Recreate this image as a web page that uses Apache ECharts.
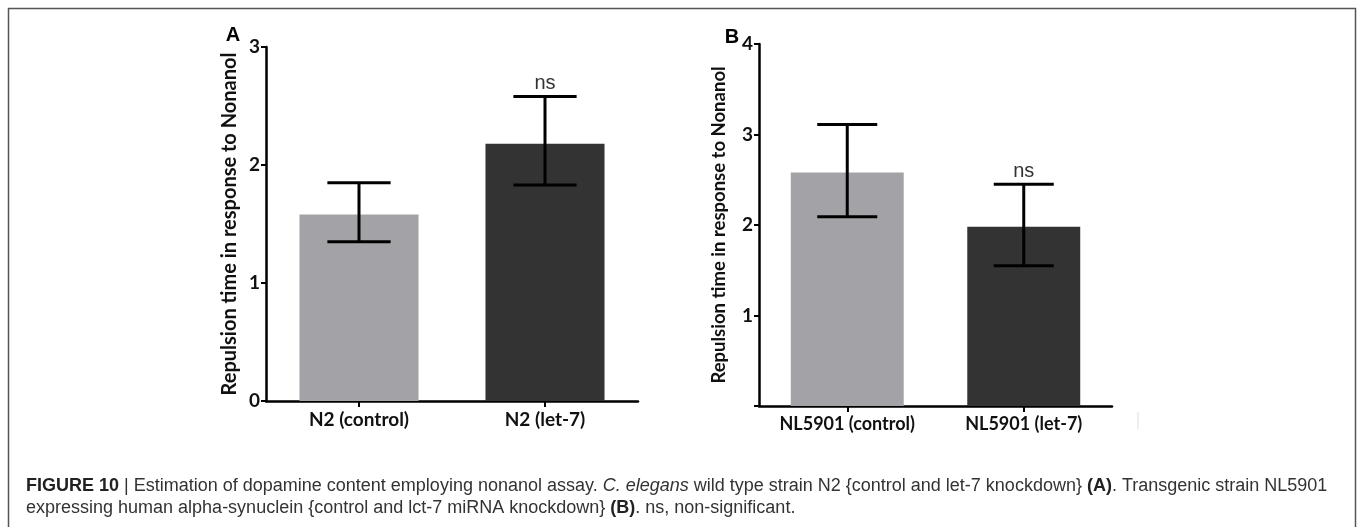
<!DOCTYPE html>
<html lang="en">
<head>
    <meta charset="UTF-8">
    <title>Figure 10</title>
    <script src="https://cdn.jsdelivr.net/npm/echarts@6/dist/echarts.min.js"></script>
    <style>
        html, body { margin: 0; padding: 0; background: #fff; }
    </style>
</head>
<body>
<div id="main" style="width:1357px;height:527px;"></div>

<script type="text/javascript">
    // panel A - N2
    var catsA = ['N2 (control)', 'N2 (let-7)'];
    var meanA = [1.58, 2.18];
    var lowA = [1.35, 1.83];
    var highA = [1.85, 2.58];
    var sigA = ['', 'ns'];

    // panel B - NL5901
    var catsB = ['NL5901 (control)', 'NL5901 (let-7)'];
    var meanB = [2.58, 1.98];
    var lowB = [2.09, 1.55];
    var highB = [3.11, 2.45];
    var sigB = ['', 'ns'];

    var barColors = ['#a3a2a7', '#333333'];
    var yName = 'Repulsion time in response to Nonanol';

    var myChart = echarts.init(document.getElementById('main'));

    function errItems(low, high) {
        var out = [];
        for (var i = 0; i < low.length; i++) {
            out.push([i, low[i], high[i]]);
        }
        return out;
    }

    function errRender(labels) {
        return function (params, api) {
            var x = api.value(0);
            var lo = api.coord([x, api.value(1)]);
            var hi = api.coord([x, api.value(2)]);
            var half = api.size([1, 0])[0] * 0.17;
            var st = { stroke: '#000', lineWidth: 3 };
            var kids = [
                { type: 'line', shape: { x1: hi[0], y1: hi[1], x2: lo[0], y2: lo[1] }, style: st },
                { type: 'line', shape: { x1: hi[0] - half, y1: hi[1], x2: hi[0] + half, y2: hi[1] }, style: st },
                { type: 'line', shape: { x1: lo[0] - half, y1: lo[1], x2: lo[0] + half, y2: lo[1] }, style: st }
            ];
            var lab = labels[params.dataIndex];
            if (lab) {
                kids.push({
                    type: 'text',
                    style: {
                        x: hi[0], y: hi[1] - 3, text: lab,
                        align: 'center', verticalAlign: 'bottom',
                        font: '20px "Liberation Sans", Arial, sans-serif', fill: '#333'
                    }
                });
            }
            return { type: 'group', children: kids };
        };
    }

    function barData(vals) {
        return vals.map(function (v, i) {
            return { value: v, itemStyle: { color: barColors[i] } };
        });
    }

    var axisLineStyle = { color: '#000', width: 2.5 };

    function yAxisFor(grid, max, fontSize, gap, hideZero) {
        return {
            type: 'value', gridIndex: grid, min: 0, max: max, interval: 1,
            name: yName, nameLocation: 'middle', nameGap: gap,
            nameTextStyle: { fontFamily: 'Lato', fontWeight: 'bold', fontSize: fontSize, color: '#111' },
            axisLine: { show: true, lineStyle: axisLineStyle },
            axisTick: { show: true, length: 5, lineStyle: { color: '#000', width: 2 } },
            splitLine: { show: false },
            axisLabel: {
                margin: 6, fontSize: 19, fontFamily: 'Lato', fontWeight: 'bold', color: '#111',
                formatter: function (v) { return (hideZero && v === 0) ? '' : v; }
            }
        };
    }

    function xAxisFor(grid, cats, fontSize) {
        return {
            type: 'category', gridIndex: grid, data: cats,
            axisLine: { show: true, lineStyle: axisLineStyle },
            axisTick: { show: true, alignWithLabel: true, length: 6, lineStyle: { color: '#000', width: 2 } },
            axisLabel: { interval: 0, hideOverlap: false, margin: 9, fontSize: fontSize, fontFamily: 'Lato', fontWeight: 'bold', color: '#111' }
        };
    }

    var capFont = '"Liberation Sans", Arial, sans-serif';
    var capLine1 = '{b|FIGURE 10} | Estimation of dopamine content employing nonanol assay. {i|C. elegans} wild type strain N2 {control and let-7 knockdown} {b|(A)}. Transgenic strain NL5901';
    var capLine2 = 'expressing human alpha-synuclein {control and lct-7 miRNA knockdown} {b|(B)}. ns, non-significant.';
    var capRich = {
        b: { fontWeight: 'bold', fontSize: 18, fontFamily: capFont, fill: '#222' },
        i: { fontStyle: 'italic', fontSize: 18, fontFamily: capFont, fill: '#333' }
    };

    option = {
        backgroundColor: '#fff',
        animation: false,
        grid: [
            { left: 266, top: 47, width: 372, height: 354 },
            { left: 759, top: 44, width: 353, height: 362 }
        ],
        xAxis: [xAxisFor(0, catsA, 19), xAxisFor(1, catsB, 18)],
        yAxis: [yAxisFor(0, 3, 20, 26, false), yAxisFor(1, 4, 18.5, 30, true)],
        series: [
            { type: 'bar', xAxisIndex: 0, yAxisIndex: 0, barWidth: '64%', data: barData(meanA) },
            { type: 'custom', xAxisIndex: 0, yAxisIndex: 0, renderItem: errRender(sigA), data: errItems(lowA, highA), z: 5 },
            { type: 'bar', xAxisIndex: 1, yAxisIndex: 1, barWidth: '64%', data: barData(meanB) },
            { type: 'custom', xAxisIndex: 1, yAxisIndex: 1, renderItem: errRender(sigB), data: errItems(lowB, highB), z: 5 }
        ],
        graphic: [
            { type: 'rect', shape: { x: 8.5, y: 8.5, width: 1347, height: 560 }, style: { fill: 'none', stroke: '#555', lineWidth: 1.5 }, silent: true },
            { type: 'text', style: { x: 233, y: 35, text: 'A', align: 'center', verticalAlign: 'middle', font: 'bold 20px "Liberation Sans", Arial, sans-serif', fill: '#000' } },
            { type: 'text', style: { x: 732, y: 37, text: 'B', align: 'center', verticalAlign: 'middle', font: 'bold 20px "Liberation Sans", Arial, sans-serif', fill: '#000' } },
            { type: 'line', shape: { x1: 1138, y1: 412, x2: 1138, y2: 429 }, style: { stroke: '#ddd', lineWidth: 1 } },
            { type: 'text', style: { x: 26, y: 486, text: capLine1, rich: capRich, verticalAlign: 'middle', font: '18px ' + capFont, fill: '#333' } },
            { type: 'text', style: { x: 26, y: 508, text: capLine2, rich: capRich, verticalAlign: 'middle', font: '18px ' + capFont, fill: '#333' } }
        ]
    };
    myChart.setOption(option);
</script>
</body>
</html>
